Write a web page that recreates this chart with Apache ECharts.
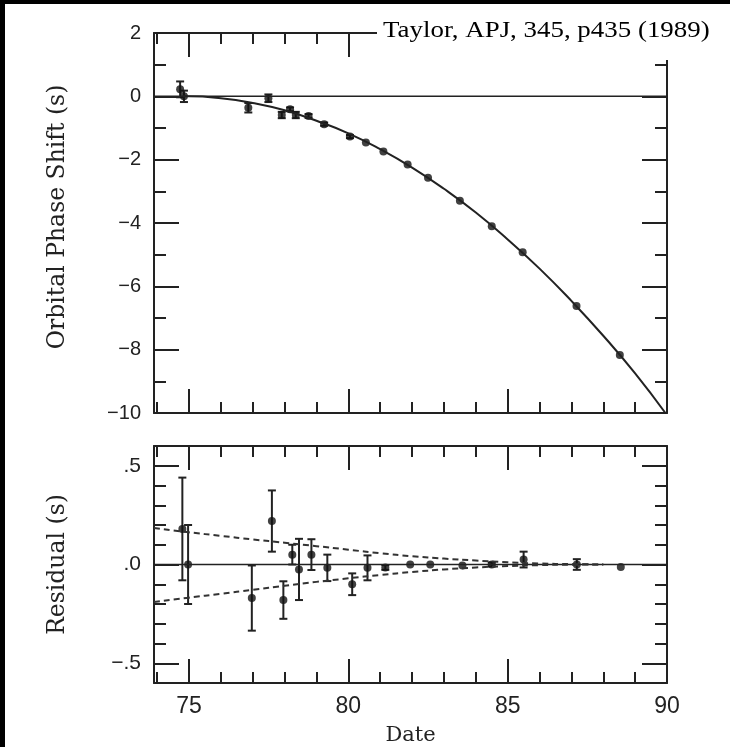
<!DOCTYPE html>
<html>
<head>
<meta charset="utf-8">
<title>Orbital Phase Shift</title>
<script src="https://cdn.jsdelivr.net/npm/echarts@6/dist/echarts.min.js"></script>
<style>
  html, body { margin: 0; padding: 0; background: #fff; width: 100%; height: 100%; overflow: hidden; }
  #chart { position: absolute; left: 5px; top: 4px; right: 0; bottom: 0; background: #fff; }
  .edge { position: absolute; background: #000; }
</style>
</head>
<body>
<div class="edge" style="left:0;top:0;width:5px;height:100%"></div>
<div class="edge" style="left:0;top:0;width:100%;height:4px"></div>
<div id="chart"></div>
<script>
// 上图：轨道相位偏移观测点
const topDate = [74.72, 74.84, 76.86, 77.49, 77.91, 78.17, 78.35, 78.75, 79.24, 80.05, 80.55, 81.1, 81.86, 82.5, 83.5, 84.5, 85.47, 87.16, 88.52];
const topShift = [0.22, 0.0, -0.36, -0.06, -0.59, -0.41, -0.59, -0.62, -0.88, -1.27, -1.46, -1.74, -2.15, -2.57, -3.3, -4.1, -4.92, -6.62, -8.17];
const topErr = [0.25, 0.18, 0.15, 0.12, 0.1, 0.06, 0.1, 0.06, 0.05, 0.05, 0.04, 0.03, 0.03, 0.03, 0.03, 0.03, 0.03, 0.03, 0.02];

// 上图：理论曲线
const curveDate = [74.8, 75, 76, 77, 78, 79, 80, 81, 82, 83, 84, 85, 86, 87, 88, 89, 89.95];
const curveShift = [0, 0, -0.06, -0.21, -0.44, -0.77, -1.17, -1.67, -2.25, -2.92, -3.67, -4.52, -5.44, -6.46, -7.56, -8.75, -10];

// 下图：残差
const resDate = [74.79, 74.97, 76.97, 77.6, 77.96, 78.24, 78.45, 78.84, 79.34, 80.12, 80.6, 81.16, 81.94, 82.57, 83.58, 84.5, 85.5, 87.17, 88.55];
const resid = [0.18, 0.0, -0.17, 0.22, -0.18, 0.05, -0.025, 0.05, -0.017, -0.10, -0.017, -0.015, 0.0, 0.0, -0.005, 0.0, 0.025, 0.0, -0.013];
const resErr = [0.26, 0.2, 0.165, 0.155, 0.095, 0.05, 0.155, 0.078, 0.067, 0.055, 0.063, 0.012, 0, 0, 0, 0.01, 0.04, 0.027, 0];

// 下图：虚线包络
const envDate = [73.9, 75, 76, 77, 78, 79, 80, 81, 82, 83, 84, 85, 86, 87, 88];
const envUpper = [0.185, 0.163, 0.145, 0.127, 0.11, 0.093, 0.075, 0.057, 0.042, 0.03, 0.02, 0.011, 0.005, 0.002, 0.0];
const envLower = [-0.19, -0.168, -0.148, -0.128, -0.108, -0.088, -0.07, -0.053, -0.038, -0.025, -0.015, -0.008, -0.003, -0.001, 0.0];

// 刻度
const xMajor = [75, 80, 85];
const xLabels = [75, 80, 85, 90];
const xMinor = [74, 76, 77, 78, 79, 81, 82, 83, 84, 86, 87, 88, 89];
const topMajor = [-10, -8, -6, -4, -2, 0, 2];
const topMinor = [-9, -7, -5, -3, -1, 1];
const resMajor = [-0.5, 0, 0.5];
const resMinor = [-0.4, -0.3, -0.2, -0.1, 0.1, 0.2, 0.3, 0.4];

const X_MIN = 73.9, X_MAX = 90;
const INK = '#222';
const tickFont = 'Liberation Sans';
const nameFont = 'DejaVu Serif';

function zip (a, b) {
  return a.map(function (v, i) { return [v, b[i]]; });
}

function errData (xs, ys, es) {
  return xs.map(function (v, i) { return [v, ys[i] - es[i], ys[i] + es[i]]; });
}

// 四条边：主刻度一条轴，次刻度一条轴
function makeXAxes (grid, withLabel) {
  const base = {
    type: 'value', gridIndex: grid, min: X_MIN, max: X_MAX,
    splitLine: { show: false },
    axisLine: { show: true, onZero: false, lineStyle: { color: INK, width: 2 } }
  };
  const list = [];
  ['bottom', 'top'].forEach(function (pos) {
    list.push(Object.assign({}, base, {
      position: pos,
      name: (pos === 'bottom' && withLabel) ? 'Date' : '',
      nameLocation: 'middle',
      nameGap: 42,
      nameTextStyle: { fontFamily: nameFont, fontSize: 21, color: '#222' },
      axisTick: { show: true, inside: true, length: 24, customValues: xMajor, lineStyle: { color: INK, width: 2 } },
      axisLabel: {
        show: pos === 'bottom' && withLabel,
        customValues: xLabels,
        margin: 12,
        fontFamily: tickFont, fontSize: 23, color: '#222'
      }
    }));
    list.push(Object.assign({}, base, {
      position: pos,
      axisLine: { show: false, onZero: false },
      axisTick: { show: true, inside: true, length: 11, customValues: xMinor, lineStyle: { color: INK, width: 2 } },
      axisLabel: { show: false }
    }));
  });
  return list;
}

function makeYAxes (grid, range, major, minor, fmt, title, labelSize, shift) {
  const base = {
    type: 'value', gridIndex: grid, min: range[0], max: range[1],
    splitLine: { show: false },
    axisLine: { show: true, onZero: false, lineStyle: { color: INK, width: 2 } }
  };
  const list = [];
  ['left', 'right'].forEach(function (pos) {
    list.push(Object.assign({}, base, {
      position: pos,
      name: pos === 'left' ? title : '',
      nameLocation: 'middle',
      nameGap: 84,
      nameTextStyle: { fontFamily: nameFont, fontSize: 23.5, color: '#222', padding: [0, 0, 0, shift] },
      axisTick: { show: true, inside: true, length: 25, customValues: major, lineStyle: { color: INK, width: 2 } },
      axisLabel: {
        show: pos === 'left',
        customValues: major,
        formatter: fmt,
        margin: 13,
        fontFamily: tickFont, fontSize: labelSize, color: '#222'
      }
    }));
    list.push(Object.assign({}, base, {
      position: pos,
      axisLine: { show: false, onZero: false },
      axisTick: { show: true, inside: true, length: 12, customValues: minor, lineStyle: { color: INK, width: 2 } },
      axisLabel: { show: false }
    }));
  });
  return list;
}

// 误差棒
function renderErr (params, api) {
  const x = api.value(0);
  const lo = api.coord([x, api.value(1)]);
  const hi = api.coord([x, api.value(2)]);
  if (Math.abs(lo[1] - hi[1]) < 3) {
    return null;
  }
  const w = 4;
  const st = { stroke: INK, lineWidth: 2 };
  return {
    type: 'group',
    children: [
      { type: 'line', shape: { x1: hi[0], y1: hi[1], x2: lo[0], y2: lo[1] }, style: st },
      { type: 'line', shape: { x1: hi[0] - w, y1: hi[1], x2: hi[0] + w, y2: hi[1] }, style: st },
      { type: 'line', shape: { x1: lo[0] - w, y1: lo[1], x2: lo[0] + w, y2: lo[1] }, style: st }
    ]
  };
}

function fmtTop (v) {
  return v < 0 ? '\u2212' + (-v) : String(v);
}

function fmtRes (v) {
  const s = Math.abs(v).toFixed(1).replace(/^0/, '');
  return (v < 0 ? '\u2212' : '') + s;
}

function getChart () {
  const myChart = echarts.init(document.getElementById('chart'));

  const option = {
    animation: false,
    backgroundColor: '#fff',
    grid: [
      { left: 149, top: 29, width: 513, height: 380 },
      { left: 149, top: 442, width: 513, height: 239 }
    ],
    xAxis: makeXAxes(0, false).concat(makeXAxes(1, true)),
    yAxis: makeYAxes(0, [-10, 2], topMajor, topMinor, fmtTop, 'Orbital Phase Shift (s)', 20, 12)
      .concat(makeYAxes(1, [-0.6, 0.6], resMajor, resMinor, fmtRes, 'Residual (s)', 21, 0)),
    graphic: [
      // 右上角引用文字（白底盖住边框）
      {
        type: 'rect', z: 100,
        shape: { x: 372, y: -4, width: 360, height: 60 },
        style: { fill: '#fff' }
      },
      {
        type: 'text', z: 101, x: 378, y: 15, scaleX: 1.17,
        style: {
          text: 'Taylor, APJ, 345, p435 (1989)',
          font: '23px "Liberation Serif"', fill: '#000',
          align: 'left', verticalAlign: 'top'
        }
      }
    ],
    series: [
      {
        type: 'line', xAxisIndex: 0, yAxisIndex: 0, symbol: 'none',
        lineStyle: { color: INK, width: 1.5 },
        data: [[X_MIN, 0], [X_MAX, 0]]
      },
      {
        type: 'line', xAxisIndex: 0, yAxisIndex: 0, symbol: 'none', smooth: true,
        lineStyle: { color: INK, width: 2 },
        data: zip(curveDate, curveShift)
      },
      {
        type: 'custom', xAxisIndex: 0, yAxisIndex: 0,
        renderItem: renderErr,
        data: errData(topDate, topShift, topErr)
      },
      {
        type: 'scatter', xAxisIndex: 0, yAxisIndex: 0, symbolSize: 8,
        itemStyle: { color: '#111' },
        data: zip(topDate, topShift)
      },
      {
        type: 'line', xAxisIndex: 4, yAxisIndex: 4, symbol: 'none',
        lineStyle: { color: INK, width: 1.5 },
        data: [[X_MIN, 0], [X_MAX, 0]]
      },
      {
        type: 'line', xAxisIndex: 4, yAxisIndex: 4, symbol: 'none', smooth: true,
        lineStyle: { color: '#333', width: 2, type: [6, 4] },
        data: zip(envDate, envUpper)
      },
      {
        type: 'line', xAxisIndex: 4, yAxisIndex: 4, symbol: 'none', smooth: true,
        lineStyle: { color: '#333', width: 2, type: [6, 4] },
        data: zip(envDate, envLower)
      },
      {
        type: 'custom', xAxisIndex: 4, yAxisIndex: 4,
        renderItem: renderErr,
        data: errData(resDate, resid, resErr)
      },
      {
        type: 'scatter', xAxisIndex: 4, yAxisIndex: 4, symbolSize: 8,
        itemStyle: { color: '#111' },
        data: zip(resDate, resid)
      }
    ]
  };

  myChart.setOption(option);

  window.addEventListener('resize', function () {
    myChart.resize();
  });
}

getChart();
</script>
</body>
</html>
